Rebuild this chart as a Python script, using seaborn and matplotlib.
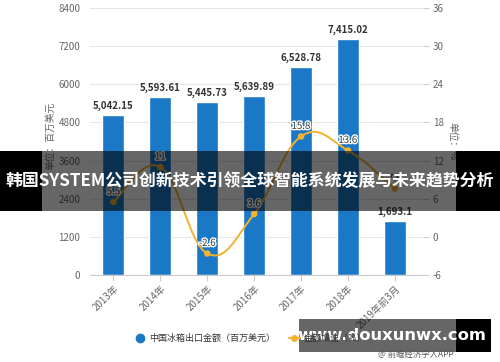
"""
Chine : exportations de refrigerateurs (montant + croissance), recreation du graphique.
"""

import numpy as np
import matplotlib
matplotlib.use('Agg')
import matplotlib.pyplot as plt
import seaborn as sns
from matplotlib.path import Path
from matplotlib.patches import PathPatch, Rectangle
from matplotlib.lines import Line2D
import matplotlib.patheffects as pe

# Donnees
years = ['2013年', '2014年', '2015年', '2016年', '2017年', '2018年', '2019年前3月']
amount = [5042.15, 5593.61, 5445.73, 5639.89, 6528.78, 7415.02, 1693.1]
amount_labels = ['5,042.15', '5,593.61', '5,445.73', '5,639.89', '6,528.78', '7,415.02', '1,693.1']
growth = [5.5, 11.0, -2.6, 3.6, 15.8, 13.6, 7.6]
growth_labels = ['5.5', '11', '-2.6', '3.6', '15.8', '13.6', '7.6']

title = '韩国SYSTEM公司创新技术引领全球智能系统发展与未来趋势分析'
bar_name = '中国冰箱出口金额（百万美元）'
line_name = '金额增速（%）'

BLUE = '#1a78c6'
GOLD = '#f2b232'
GRAY_TXT = '#666666'
GRID = '#e6e6e6'

sns.set_theme(style='white')
plt.rcParams['font.family'] = ['Noto Sans CJK SC', 'DejaVu Sans']
plt.rcParams['axes.unicode_minus'] = False

fig = plt.figure(figsize=(5, 3.62), dpi=100)
ax = fig.add_axes([0.18, 0.24, 0.666, 0.738])

# Barres
sns.barplot(x=years, y=amount, color=BLUE, width=0.47, saturation=1, ax=ax, zorder=2)
ax.set_xlim(-0.5, 6.6)
ax.set_ylim(0, 8400)
ax.set_yticks(range(0, 8401, 1200))
ax.yaxis.grid(True, color=GRID, lw=0.8)
ax.set_axisbelow(True)
ax.tick_params(axis='y', length=0, pad=7, labelsize=7, labelcolor=GRAY_TXT)
ax.tick_params(axis='x', length=4, color='#cccccc', width=0.8, labelsize=7,
               labelcolor=GRAY_TXT, pad=2, bottom=True)
plt.setp(ax.get_xticklabels(), rotation=45, ha='right', rotation_mode='anchor')
for s in ['top', 'left', 'right']:
    ax.spines[s].set_visible(False)
ax.spines['bottom'].set_color('#cccccc')
ax.spines['bottom'].set_linewidth(0.8)
ax.set_xlabel('')
ax.set_ylabel('单位：百万美元', fontsize=7, color=GRAY_TXT)
ax.yaxis.set_label_coords(-0.105, 0.52)

ax.bar_label(ax.containers[0], labels=amount_labels, padding=3, fontsize=7,
             fontweight='bold', color='#333333')

# Courbe de croissance (axe de droite)
ax2 = ax.twinx()
ax2.set_ylim(-6, 36)
ax2.set_yticks(range(-6, 37, 6))
ax2.tick_params(axis='y', length=4, color='#cccccc', width=0.8, pad=3,
                labelsize=7, labelcolor=GRAY_TXT)
for s in ['top', 'left', 'right', 'bottom']:
    ax2.spines[s].set_visible(False)
ax2.set_ylabel('单位：%', fontsize=7, color=GRAY_TXT, rotation=-90, labelpad=10)

# spline facon highcharts, a partir des points
pts = np.column_stack([np.arange(len(growth)), growth]).astype(float)
verts = [tuple(pts[0])]
codes = [Path.MOVETO]
for i in range(len(pts) - 1):
    p0 = pts[i - 1] if i > 0 else pts[i]
    p1, p2 = pts[i], pts[i + 1]
    p3 = pts[i + 2] if i + 2 < len(pts) else pts[i + 1]
    c1 = p1 + (p2 - p0) * 0.2
    c2 = p2 - (p3 - p1) * 0.2
    verts += [tuple(c1), tuple(c2), tuple(p2)]
    codes += [Path.CURVE4] * 3
ax2.add_patch(PathPatch(Path(verts, codes), fill=False, edgecolor=GOLD, lw=1.4, zorder=3))
sns.scatterplot(x=np.arange(len(growth)), y=growth, color=GOLD, s=22,
                edgecolor='none', ax=ax2, zorder=4)
for i, (g, lab) in enumerate(zip(growth, growth_labels)):
    ax2.annotate(lab, (i, g), xytext=(0, 4), textcoords='offset points',
                 ha='center', va='bottom', fontsize=7, color='#333333',
                 path_effects=[pe.withStroke(linewidth=2, foreground='white')], zorder=5)

# Legende
handles = [Line2D([], [], marker='o', color=BLUE, ls='none', markersize=6),
           Line2D([], [], marker='o', color=GOLD, lw=1.5, markersize=4)]
fig.legend(handles, [bar_name, line_name], loc='center', bbox_to_anchor=(0.5, 0.066),
           ncol=2, frameon=False, fontsize=6.5, handlelength=1.3, columnspacing=1.5,
           handletextpad=0.4, labelcolor='#333333')

fig.text(0.756, 0.022, '@ 前瞻经济学人APP', fontsize=6, color='#555555', ha='left', va='center')

# Bandeau titre
fig.add_artist(Rectangle((0, 0.417), 0.084, 0.166, transform=fig.transFigure,
                         facecolor='black', edgecolor='none'))
fig.add_artist(Rectangle((0.084, 0.417), 0.828, 0.166, transform=fig.transFigure,
                         facecolor='black', alpha=0.6, edgecolor='none'))
fig.add_artist(Rectangle((0.912, 0.417), 0.088, 0.166, transform=fig.transFigure,
                         facecolor='black', edgecolor='none'))
fig.text(0.5, 0.5, title, fontsize=12.2, fontweight='bold', color='white',
         ha='center', va='center')

# Filigrane
fig.add_artist(Rectangle((0.598, 0.028), 0.314, 0.091, transform=fig.transFigure,
                         facecolor='black', alpha=0.6, edgecolor='none'))
fig.add_artist(Rectangle((0.912, 0.028), 0.07, 0.091, transform=fig.transFigure,
                         facecolor='black', edgecolor='none'))
fig.text(0.783, 0.072, 'www.douxunwx.com', fontsize=11.8, fontweight='bold',
         color='white', ha='center', va='center', family=['DejaVu Sans'])

fig.savefig('out.png', dpi=100)
